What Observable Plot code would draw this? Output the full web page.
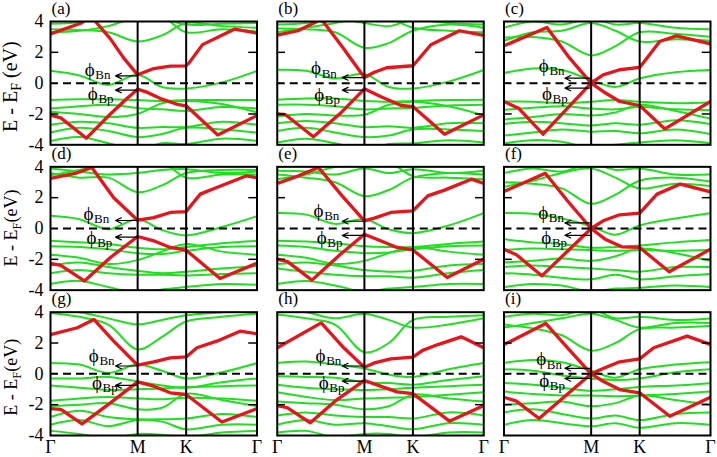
<!DOCTYPE html>
<html><head><meta charset="utf-8">
<script src="https://cdn.jsdelivr.net/npm/d3@7"></script>
<script src="https://cdn.jsdelivr.net/npm/@observablehq/plot@0.6"></script>
<style>
html,body{margin:0;padding:0;background:#fff;}
#chart{width:717px;height:457px;}
</style></head><body><div id="chart"></div>
<script>
// k-path (fraction of path), tick labels
const kPath = [0, 0.14, 0.28, 0.422, 0.54, 0.657, 0.83, 1];
const kTicks = [0, 0.422, 0.657, 1];
const kLabels = ["Γ", "M", "K", "Γ"];
const yTicks = [-4, -2, 0, 2, 4];
const panelNames = ["(a)", "(b)", "(c)", "(d)", "(e)", "(f)", "(g)", "(h)", "(i)"];
const yLabelMain = ["E - E", "E - E", "E - E"];
const yLabelSub = ["F", "F", "F"];
const yLabelTail = [" (eV)", "(eV)", "(eV)"];

// green bands: energies (eV) at kPath points
const greenA = [
  [3.85, 3.95, 4.3, 4.3, 4.2, 3.8, 3.85, 3.9],
  [3.5, 3.45, 3.3, 2.7, 3.1, 3.9, 3.7, 3.6],
  [3.3, 3.4, 3.7, 4.3, 4.3, 3.3, 3.5, 3.35],
  [0.8, 0.5, -0.12, 0.55, -0.25, -0.35, 0.05, 0.8],
  [-1.1, -1.05, -1.05, -1.1, -1.15, -1.1, -1.1, -1.1],
  [-1.65, -1.5, -1.4, -1.62, -1.7, -1.8, -1.55, -1.65],
  [-1.85, -2.0, -2.2, -2.0, -1.3, -1.15, -1.35, -1.9],
  [-2.7, -2.5, -2.6, -2.9, -2.85, -2.85, -2.5, -2.7],
  [-3.2, -2.9, -3.1, -3.5, -3.3, -2.9, -3.0, -3.2],
  [-3.75, -3.5, -3.9, -4.3, -3.9, -3.95, -3.6, -3.75]
];
const greenB = [
  [3.55, 3.5, 3.3, 2.3, 2.6, 3.4, 3.8, 3.6],
  [3.3, 3.6, 3.9, 4.3, 4.2, 3.6, 3.4, 3.3],
  [3.8, 3.9, 4.2, 3.9, 3.7, 4.1, 3.9, 3.8],
  [0.87, 0.8, 0.3, 0.6, -0.25, -0.35, 0.1, 0.85],
  [-1.08, -1.0, -1.0, -1.15, -1.2, -1.15, -1.1, -1.08],
  [-1.4, -1.4, -1.5, -1.7, -1.65, -1.6, -1.45, -1.4],
  [-2.15, -2.0, -2.1, -2.05, -1.4, -1.2, -1.5, -2.1],
  [-2.6, -2.45, -2.6, -2.85, -2.8, -2.9, -2.6, -2.6],
  [-3.1, -2.9, -3.2, -3.5, -3.4, -3.0, -3.0, -3.1],
  [-3.85, -3.6, -3.9, -4.3, -3.95, -3.9, -3.7, -3.85]
];
const greenC = [
  [2.95, 3.0, 2.7, 1.8, 2.4, 3.3, 3.2, 3.0],
  [2.75, 3.3, 3.4, 3.9, 3.4, 2.7, 2.85, 2.75],
  [3.6, 4.0, 3.8, 4.2, 3.8, 3.9, 3.6, 3.5],
  [0.65, 0.95, 0.85, 0.2, -0.25, 0.3, 0.7, 0.85],
  [-1.2, -1.2, -1.3, -1.2, -1.1, -1.2, -1.3, -1.25],
  [-1.73, -1.6, -1.5, -1.65, -1.7, -1.55, -1.7, -1.75],
  [-2.35, -2.2, -2.0, -2.1, -1.9, -1.4, -1.8, -2.3],
  [-2.65, -2.5, -2.6, -2.75, -2.6, -2.7, -2.4, -2.65],
  [-3.4, -3.2, -3.0, -3.15, -3.1, -3.25, -3.0, -3.3],
  [-3.9, -3.7, -3.8, -4.2, -4.0, -3.85, -3.7, -3.9]
];
const greenD = [
  [3.6, 3.3, 3.3, 2.35, 2.8, 3.6, 3.8, 3.8],
  [3.9, 3.7, 3.5, 3.6, 3.8, 3.85, 3.6, 3.7],
  [3.45, 3.8, 4.2, 4.2, 4.3, 3.3, 3.5, 3.5],
  [0.82, 0.6, -0.05, 0.6, -0.1, -0.45, 0.1, 0.8],
  [-0.8, -0.9, -1.0, -1.25, -1.35, -1.2, -0.95, -0.8],
  [-1.15, -1.2, -1.35, -1.6, -1.65, -1.45, -1.2, -1.15],
  [-1.7, -1.9, -2.3, -2.05, -1.5, -1.0, -1.5, -1.7],
  [-2.4, -2.2, -2.5, -2.75, -2.9, -2.8, -2.6, -2.45],
  [-2.9, -2.7, -2.9, -3.0, -3.0, -3.05, -2.95, -2.9],
  [-3.6, -3.4, -3.8, -4.2, -3.95, -3.8, -3.6, -3.65]
];
const greenE = [
  [3.5, 3.3, 3.0, 2.1, 2.5, 3.3, 3.6, 3.5],
  [3.75, 3.7, 3.5, 3.9, 3.6, 3.85, 3.6, 3.75],
  [3.2, 3.5, 4.0, 4.3, 4.3, 3.4, 3.3, 3.2],
  [1.0, 0.9, 0.3, 0.6, -0.05, -0.3, 0.2, 1.0],
  [-0.8, -0.85, -0.95, -1.15, -1.2, -1.2, -1.0, -0.85],
  [-1.1, -1.2, -1.45, -1.6, -1.55, -1.35, -1.15, -1.1],
  [-1.7, -1.9, -2.3, -2.1, -1.6, -1.2, -1.5, -1.7],
  [-2.3, -2.2, -2.4, -2.7, -2.8, -2.75, -2.4, -2.3],
  [-2.6, -2.8, -3.0, -3.1, -3.1, -3.2, -2.9, -2.7],
  [-3.6, -3.4, -3.7, -4.1, -3.9, -3.8, -3.6, -3.6]
];
const greenF = [
  [3.0, 2.9, 2.6, 1.6, 2.2, 3.1, 3.3, 3.05],
  [2.7, 3.1, 3.6, 3.9, 3.3, 2.6, 2.9, 2.75],
  [3.6, 3.9, 3.7, 4.2, 3.8, 3.9, 3.5, 3.5],
  [1.0, 0.95, 0.65, 0.15, -0.4, 0.2, 0.65, 1.0],
  [-0.7, -0.9, -1.0, -1.25, -1.2, -1.1, -0.9, -0.75],
  [-1.4, -1.3, -1.35, -1.4, -1.45, -1.4, -1.45, -1.4],
  [-2.2, -2.1, -1.95, -2.1, -1.8, -1.3, -1.6, -2.1],
  [-2.5, -2.4, -2.5, -2.6, -2.7, -2.8, -2.5, -2.5],
  [-2.9, -3.0, -3.2, -3.3, -3.0, -3.3, -3.1, -2.95],
  [-3.8, -3.6, -3.7, -4.1, -3.9, -3.85, -3.7, -3.8]
];
const greenG = [
  [3.95, 3.7, 3.2, 1.58, 2.4, 3.4, 3.7, 3.9],
  [4.2, 4.0, 3.6, 3.2, 3.5, 3.8, 4.0, 4.2],
  [0.71, 0.6, 0.05, 0.6, 0.2, -0.3, 0.1, 0.7],
  [-0.3, -0.3, -0.2, -0.5, -0.75, -0.9, -0.55, -0.3],
  [-0.75, -0.9, -1.05, -1.0, -0.95, -0.85, -0.8, -0.75],
  [-1.75, -1.6, -1.5, -1.6, -1.65, -1.55, -1.6, -1.75],
  [-2.1, -2.0, -1.9, -2.3, -2.2, -1.3, -1.7, -2.1],
  [-2.8, -2.4, -2.8, -2.95, -2.95, -2.9, -2.6, -2.8],
  [-3.3, -3.0, -3.4, -3.0, -3.1, -3.6, -3.3, -3.3],
  [-3.7, -3.9, -4.2, -3.9, -3.95, -4.1, -3.8, -3.7]
];
const greenH = [
  [3.85, 3.6, 3.2, 1.4, 2.0, 3.5, 3.7, 3.8],
  [4.2, 4.0, 3.6, 3.9, 3.5, 3.0, 3.2, 3.6],
  [0.71, 0.8, 0.6, 0.35, -0.05, -0.2, 0.3, 0.7],
  [-0.15, -0.2, -0.25, -0.55, -0.6, -0.7, -0.4, -0.15],
  [-0.7, -0.9, -1.0, -1.05, -1.0, -0.9, -0.8, -0.7],
  [-1.2, -1.5, -1.7, -1.6, -1.55, -1.5, -1.35, -1.2],
  [-1.8, -1.9, -2.0, -2.3, -2.1, -1.35, -1.6, -1.8],
  [-2.7, -2.5, -2.7, -2.8, -2.8, -2.9, -2.5, -2.7],
  [-3.3, -3.0, -3.3, -3.2, -3.4, -3.6, -3.2, -3.3],
  [-3.8, -3.7, -4.1, -3.9, -3.9, -4.1, -3.8, -3.8]
];
const greenI = [
  [3.2, 2.95, 2.5, 1.5, 2.0, 2.9, 3.0, 3.1],
  [3.0, 3.3, 3.6, 3.9, 3.5, 3.0, 3.3, 3.3],
  [3.7, 3.9, 3.8, 4.2, 3.6, 3.7, 3.5, 3.6],
  [0.71, 0.9, 0.75, 0.2, -0.25, 0.3, 0.6, 0.75],
  [0.3, 0.2, -0.1, -0.3, -0.4, -0.3, 0.1, 0.3],
  [-0.6, -0.7, -0.9, -1.1, -1.0, -0.85, -0.75, -0.6],
  [-1.15, -1.3, -1.4, -1.4, -1.45, -1.4, -1.3, -1.15],
  [-2.0, -1.9, -1.8, -2.1, -1.9, -1.4, -1.7, -2.0],
  [-2.5, -2.3, -2.6, -2.9, -2.7, -3.0, -2.6, -2.5],
  [-3.3, -3.0, -3.2, -3.4, -3.2, -3.5, -3.2, -3.3]
];

// red bands: [k, E] points (conduction band, valence band)
const cbA = [[0,3.2],[0.15,3.9],[0.2,4.4],[0.218,4.0],[0.29,2.87],[0.354,1.64],[0.422,0.54],[0.5,0.95],[0.58,1.1],[0.655,1.12],[0.67,1.3],[0.736,2.5],[0.89,3.5],[1,3.25]];
const vbA = [[0,-2.08],[0.05,-2.25],[0.174,-3.57],[0.29,-2.0],[0.37,-1.0],[0.422,-0.39],[0.47,-0.6],[0.54,-1.04],[0.62,-1.4],[0.657,-1.47],[0.81,-3.36],[1,-2.1]];
const cbB = [[0,3.12],[0.1,3.4],[0.207,4.1],[0.225,3.95],[0.32,2.27],[0.422,0.37],[0.47,0.71],[0.53,1.0],[0.657,1.13],[0.744,2.49],[0.882,3.4],[1,3.1]];
const vbB = [[0,-1.99],[0.04,-2.05],[0.175,-3.48],[0.31,-1.9],[0.422,-0.37],[0.5,-0.87],[0.6,-1.45],[0.657,-1.52],[0.81,-3.31],[1,-2.06]];
const cbC = [[0,2.42],[0.208,3.61],[0.318,1.62],[0.422,0],[0.48,0.54],[0.56,0.87],[0.657,1.02],[0.754,2.7],[0.835,3.07],[1,2.55]];
const vbC = [[0,-1.19],[0.07,-1.62],[0.189,-3.31],[0.422,0],[0.48,-0.54],[0.56,-1.19],[0.657,-1.45],[0.779,-2.97],[1,-1.19]];
const cbD = [[0,3.25],[0.12,3.57],[0.2,3.96],[0.306,2.0],[0.422,0.54],[0.5,0.71],[0.58,1.04],[0.657,1.1],[0.725,2.23],[0.805,2.66],[0.95,3.42],[1,3.3]];
const vbD = [[0,-2.27],[0.05,-2.4],[0.164,-3.4],[0.29,-1.88],[0.422,-0.52],[0.5,-0.8],[0.58,-1.23],[0.657,-1.41],[0.821,-3.25],[1,-2.25]];
const cbE = [[0,2.92],[0.1,3.4],[0.2,3.96],[0.314,2.12],[0.422,0.5],[0.47,0.67],[0.55,1.04],[0.657,1.15],[0.729,2.12],[0.81,2.49],[0.94,3.2],[1,2.92]];
const vbE = [[0,-1.99],[0.05,-2.15],[0.168,-3.35],[0.306,-1.67],[0.422,-0.37],[0.5,-0.8],[0.58,-1.23],[0.657,-1.39],[0.823,-3.18],[1,-2.0]];
const cbF = [[0,2.4],[0.2,3.59],[0.31,1.75],[0.422,0],[0.48,0.5],[0.56,0.89],[0.657,1.0],[0.741,2.23],[0.854,2.88],[1,2.38]];
const vbF = [[0,-1.34],[0.06,-1.7],[0.183,-3.07],[0.422,0],[0.49,-0.69],[0.57,-1.19],[0.657,-1.23],[0.8,-2.81],[1,-1.34]];
const cbG = [[0,2.55],[0.13,2.99],[0.21,3.53],[0.306,2.12],[0.422,0.56],[0.5,0.78],[0.58,1.04],[0.657,1.1],[0.709,1.69],[0.805,2.12],[0.918,2.77],[1,2.6]];
const vbG = [[0,-2.25],[0.05,-2.3],[0.153,-3.25],[0.29,-1.88],[0.422,-0.52],[0.5,-0.8],[0.58,-1.23],[0.657,-1.34],[0.83,-3.12],[1,-2.25]];
const cbH = [[0,1.69],[0.213,3.31],[0.322,1.69],[0.422,0.43],[0.47,0.71],[0.55,0.97],[0.657,1.08],[0.704,1.52],[0.778,1.9],[0.891,2.4],[1,1.69]];
const vbH = [[0,-2.06],[0.05,-2.2],[0.16,-3.18],[0.29,-1.67],[0.422,-0.43],[0.5,-0.8],[0.58,-1.17],[0.657,-1.28],[0.834,-3.07],[1,-2.06]];
const cbI = [[0,1.9],[0.202,3.27],[0.31,1.65],[0.422,0],[0.48,0.35],[0.56,0.78],[0.657,0.97],[0.725,1.69],[0.887,2.45],[1,1.9]];
const vbI = [[0,-1.52],[0.06,-1.77],[0.17,-2.9],[0.422,0],[0.48,-0.48],[0.56,-1.02],[0.657,-1.23],[0.803,-2.75],[1,-1.52]];

// barrier arrows and φ labels per panel
const arrowN = [0.47, 0.36, 0.32, 0.52, 0.47, 0.36, 0.51, 0.51, 0.36];
const arrowP = [-0.45, -0.45, -0.32, -0.56, -0.45, -0.44, -0.75, -0.47, -0.3];
const arrowTail = [0.418, 0.418, 0.422, 0.418, 0.418, 0.422, 0.418, 0.418, 0.422];
const arrowHead = [0.315, 0.315, 0.295, 0.315, 0.315, 0.295, 0.315, 0.315, 0.295];
const bracketPanels = [2, 5, 8];
const phiX = [0.19, 0.188, 0.193, 0.184, 0.2, 0.19, 0.21, 0.21, 0.18];
const phiN = [0.86, 0.96, 1.12, 0.95, 1.12, 1.01, 1.16, 1.16, 0.94];
const phiP = [-0.69, -0.76, -0.67, -0.61, -0.61, -0.61, -0.58, -0.6, -0.47];

const GREEN = "#1fe01f", RED = "#e8141b";
const FONT = "'Liberation Serif', 'Times New Roman', serif";

const greens = [greenA, greenB, greenC, greenD, greenE, greenF, greenG, greenH, greenI];
const cbs = [cbA, cbB, cbC, cbD, cbE, cbF, cbG, cbH, cbI];
const vbs = [vbA, vbB, vbC, vbD, vbE, vbF, vbG, vbH, vbI];
const cell = p => ({col: p % 3, row: Math.floor(p / 3)});

const greenRows = greens.flatMap((bands, p) => bands.flatMap((b, j) => b.map((E, i) => ({...cell(p), band: j, k: kPath[i], E}))));
const redRows = [
  ...cbs.flatMap((pts, p) => pts.map(([k, E]) => ({...cell(p), band: "cb", k, E}))),
  ...vbs.flatMap((pts, p) => pts.map(([k, E]) => ({...cell(p), band: "vb", k, E})))
];
const arrowRows = arrowN.flatMap((eN, p) => [
  {...cell(p), x1: arrowTail[p], x2: arrowHead[p], y: eN},
  {...cell(p), x1: arrowTail[p], x2: arrowHead[p], y: arrowP[p]}
]);
const bracketRows = bracketPanels.map(p => ({...cell(p), k: kTicks[1], y1: arrowP[p], y2: arrowN[p]}));
const phiRows = phiX.flatMap((x, p) => [
  {...cell(p), x, y: phiN[p], t: "\u03D5"},
  {...cell(p), x: x + 0.015, y: phiP[p], t: "\u03D5"}
]);
const subRows = phiX.flatMap((x, p) => [
  {...cell(p), x: x + 0.027, y: phiN[p] - 0.33, t: "Bn"},
  {...cell(p), x: x + 0.042, y: phiP[p] - 0.33, t: "Bp"}
]);
const nameRows = panelNames.map((t, p) => ({...cell(p), t}));

const chart = Plot.plot({
  width: 717, height: 457,
  marginTop: 21, marginBottom: 22, marginLeft: 50, marginRight: 7,
  facet: {marginTop: 0, marginRight: 0, marginBottom: 0, marginLeft: 0},
  style: {fontFamily: FONT, fontSize: "18px", color: "black", background: "white"},
  x: {domain: [0, 1], ticks: kTicks, tickFormat: d => kLabels[kTicks.indexOf(d)], tickSize: 0, tickPadding: 5, label: null},
  y: {domain: [-4, 4], ticks: yTicks, tickFormat: d => String(d), tickSize: 0, tickPadding: 7, label: null},
  fx: {axis: null, paddingInner: 0.0893, paddingOuter: 0, round: false},
  fy: {axis: null, paddingInner: 0.1516, paddingOuter: 0, round: false},
  marks: [
    Plot.line(greenRows, {x: "k", y: "E", z: "band", fx: "col", fy: "row", stroke: GREEN, strokeWidth: 2, curve: "catmull-rom", clip: true}),
    Plot.line(redRows, {x: "k", y: "E", z: "band", fx: "col", fy: "row", stroke: RED, strokeWidth: 3.3, strokeLinejoin: "round", clip: true}),
    Plot.ruleX([kTicks[1], kTicks[2]], {stroke: "black", strokeWidth: 2}),
    Plot.ruleY([0], {stroke: "black", strokeWidth: 2, strokeDasharray: "8,5"}),
    Plot.ruleY([-2, 2], {x1: 0, x2: 0.04, stroke: "black", strokeWidth: 1.5}),
    Plot.ruleY([-2, 2], {x1: 0.96, x2: 1, stroke: "black", strokeWidth: 1.5}),
    Plot.arrow(arrowRows, {x1: "x1", x2: "x2", y1: "y", y2: "y", fx: "col", fy: "row", stroke: "black", strokeWidth: 1.2, headLength: 8, headAngle: 50}),
    Plot.ruleX(bracketRows, {x: "k", y1: "y1", y2: "y2", fx: "col", fy: "row", stroke: "black", strokeWidth: 1.2}),
    Plot.text(phiRows, {x: "x", y: "y", text: "t", fx: "col", fy: "row", fontSize: 19, fill: "black"}),
    Plot.text(subRows, {x: "x", y: "y", text: "t", fx: "col", fy: "row", fontSize: 13, textAnchor: "start", fill: "black"}),
    Plot.text(nameRows, {text: "t", fx: "col", fy: "row", frameAnchor: "top-left", dx: 1, dy: -8, lineAnchor: "bottom", fontSize: 17, fill: "black"}),
    Plot.frame({stroke: "black", strokeWidth: 2})
  ]
});

document.getElementById("chart").appendChild(chart);

const svg = d3.select(chart);
svg.selectAll('[aria-label="x-axis tick label"]').attr("font-size", 18);
const fyScale = chart.scale("fy");
const labelSize = [20, 18, 18];
const labelShift = [4, 0, 4];
[0, 1, 2].forEach(r => {
  const cy = fyScale.apply(r) + fyScale.bandwidth / 2 + labelShift[r];
  const t = svg.append("text")
    .attr("transform", `translate(16.5,${cy}) rotate(-90)`)
    .attr("text-anchor", "middle")
    .attr("font-family", FONT)
    .attr("font-size", labelSize[r])
    .attr("fill", "black");
  t.append("tspan").text(yLabelMain[r]);
  t.append("tspan").attr("font-size", labelSize[r] * 0.7).attr("dy", 4).text(yLabelSub[r]);
  t.append("tspan").attr("dy", -4).text(yLabelTail[r]);
});
</script>
</body></html>
